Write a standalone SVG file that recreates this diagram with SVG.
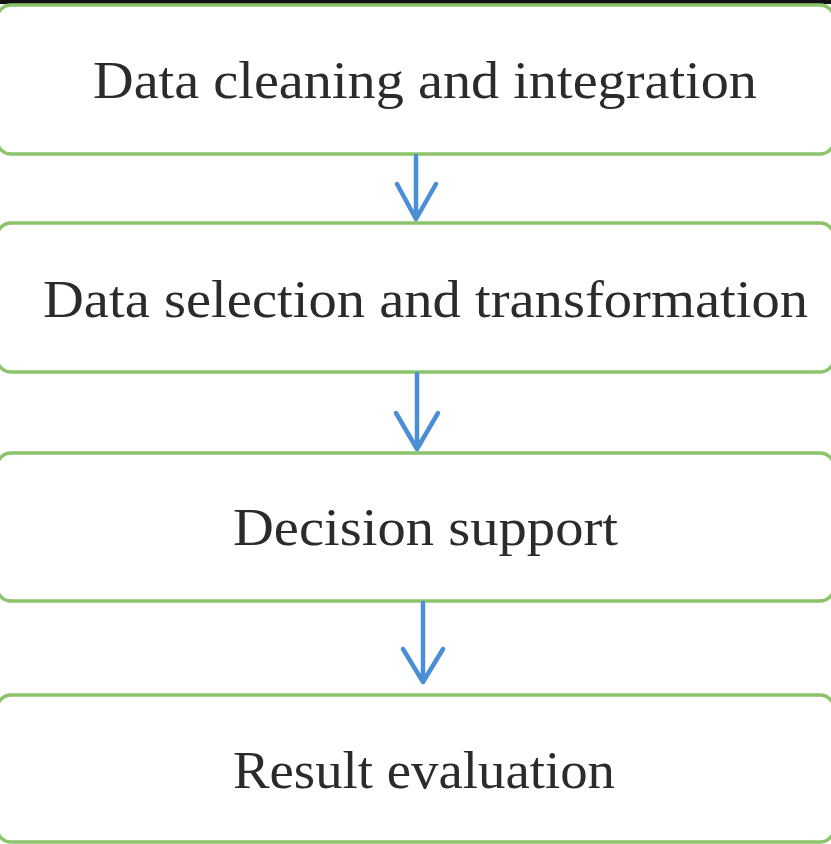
<svg xmlns="http://www.w3.org/2000/svg" width="831" height="844" viewBox="0 0 831 844">
<style>
.box{fill:#ffffff;stroke:#8cc46c;stroke-width:3.5}
.lbl{font-family:"Liberation Serif","Times New Roman",serif;font-size:53px;fill:#2b2b2b}
.arr{fill:none;stroke:#4a8fd6;stroke-width:4.5;stroke-linecap:round;stroke-linejoin:round}
</style>
<rect x="0" y="0" width="831" height="844" fill="#ffffff"/>
<rect x="0" y="0" width="831" height="4" fill="#111111"/>
<g id="n1"><rect class="box" x="-3" y="5" width="837" height="149" rx="14"/>
<text class="lbl" x="93" y="98" textLength="664" lengthAdjust="spacingAndGlyphs">Data cleaning and integration</text></g>
<g id="n2"><rect class="box" x="-3" y="223" width="837" height="149" rx="14"/>
<text class="lbl" x="43" y="317" textLength="765" lengthAdjust="spacingAndGlyphs">Data selection and transformation</text></g>
<g id="n3"><rect class="box" x="-3" y="453" width="837" height="148" rx="14"/>
<text class="lbl" x="233" y="545" textLength="385" lengthAdjust="spacingAndGlyphs">Decision support</text></g>
<g id="n4"><rect class="box" x="-3" y="695" width="837" height="147" rx="14"/>
<text class="lbl" x="233" y="788" textLength="382" lengthAdjust="spacingAndGlyphs">Result evaluation</text></g>
<g id="connectors">
<path class="arr" d="M416 156 V219 M397 184 L416 219 L436 184"/>
<path class="arr" d="M417 374 V449 M396 413 L417 449 L438 413"/>
<path class="arr" d="M423 603 V682 M403 649 L423 682 L443 649"/>
</g>
</svg>
